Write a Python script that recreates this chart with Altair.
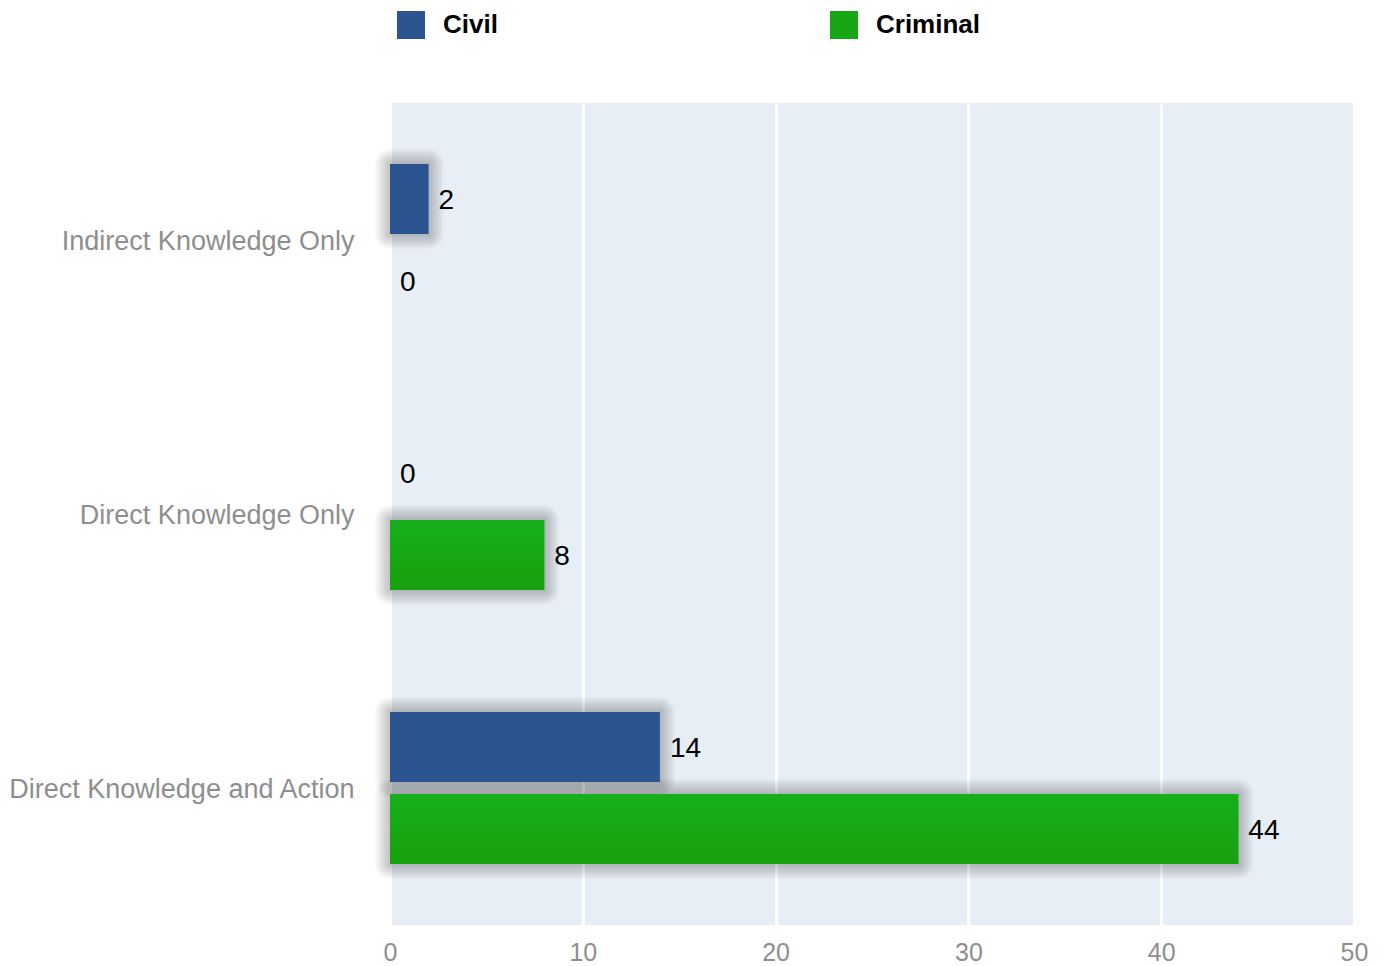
import altair as alt
import pandas as pd

categories = ["Indirect Knowledge Only", "Direct Knowledge Only", "Direct Knowledge and Action"]
series = ["Civil", "Criminal"]
civil = [2, 0, 14]
criminal = [0, 8, 44]
x_ticks = [0, 10, 20, 30, 40, 50]

rows = []
for c, v in zip(categories, civil):
    rows.append({"category": c, "series": "Civil", "value": v})
for c, v in zip(categories, criminal):
    rows.append({"category": c, "series": "Criminal", "value": v})
df = pd.DataFrame(rows)

FONT = "Liberation Sans"
GRAY = "#8e8e8e"
BLUE = "#2c5490"
GREEN = "#17a614"

y_enc = alt.Y(
    "category:N",
    sort=categories,
    scale=alt.Scale(paddingInner=0, paddingOuter=0),
    axis=alt.Axis(
        title=None, domain=False, ticks=False, grid=False,
        labelFontSize=27, labelColor=GRAY, labelFont=FONT, labelPadding=36,
        labelLimit=400, labelOffset=2,
    ),
)
yoff_enc = alt.YOffset(
    "series:N", sort=series,
    scale=alt.Scale(paddingInner=0.146, paddingOuter=0.744),
)
x_enc = alt.X(
    "value:Q",
    scale=alt.Scale(domain=[0, 50], nice=False),
    axis=alt.Axis(
        title=None, values=x_ticks, domain=False, ticks=False, grid=True,
        gridColor="white", gridWidth=3, gridOpacity=1, labelFlush=False,
        labelFontSize=25, labelColor=GRAY, labelFont=FONT, labelPadding=15,
    ),
)

base = alt.Chart(df).encode(y=y_enc, yOffset=yoff_enc, x=x_enc)

shadow_layers = []
for w in [30, 27, 24, 21, 18, 15, 12, 9, 6, 3]:
    shadow_layers.append(
        base.transform_filter("datum.value > 0").mark_bar(
            fill="black", fillOpacity=0, stroke="black", strokeWidth=w,
            strokeOpacity=0.022, strokeJoin="round",
        )
    )

bars = base.mark_bar().encode(
    color=alt.Color(
        "series:N",
        sort=series,
        scale=alt.Scale(domain=series, range=[BLUE, GREEN]),
        legend=alt.Legend(
            title=None, orient="none", legendX=7, legendY=-92,
            direction="horizontal", columns=2, symbolType="square",
            symbolSize=784, symbolStrokeWidth=0, symbolOpacity=1,
            labelFontSize=26, labelFontWeight="bold", labelColor="black",
            labelFont=FONT, labelOffset=18, columnPadding=332,
        ),
    )
)

green_grad = alt.LinearGradient(
    gradient="linear", x1=0, y1=0, x2=0, y2=1,
    stops=[alt.GradientStop(color="#16b01c", offset=0),
           alt.GradientStop(color="#19a00e", offset=1)],
)
green_overlay = base.transform_filter("datum.series == 'Criminal'").mark_bar(fill=green_grad)

labels = base.mark_text(
    align="left", baseline="middle", dx=10, dy=2, fontSize=28, font=FONT, color="black"
).encode(text="value:Q")

chart = alt.layer(*shadow_layers, bars, green_overlay, labels).properties(
    width=964, height=822,
    autosize=alt.AutoSizeParams(type="none"),
    padding={"left": 382, "top": 95, "right": 22, "bottom": 41},
).configure_view(fill="#e7eef5", strokeWidth=0)

chart.save("out.html", embed_options={"renderer": "svg", "actions": False})
